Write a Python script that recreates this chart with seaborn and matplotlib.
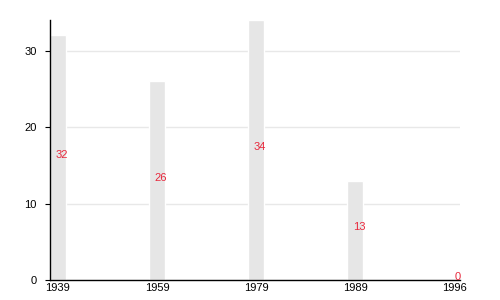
import matplotlib
matplotlib.use("Agg")
import matplotlib.pyplot as plt
import seaborn as sns
import pandas as pd

years = ["1939", "1959", "1979", "1989", "1996"]
values = [32, 26, 34, 13, 0]

sns.set_theme(style="white")
plt.rcParams['font.family'] = ['Liberation Sans', 'DejaVu Sans']

df = pd.DataFrame({"year": years, "value": values})

fig = plt.figure(figsize=(5, 3), dpi=100)
ax = fig.add_axes([0.1, 0.0667, 0.82, 0.8667])

ax.set_axisbelow(True)
ax.yaxis.grid(True, color="#e8e8e8", linewidth=1)
sns.barplot(data=df, x="year", y="value", order=years, color="#e6e6e6",
            saturation=1, width=0.165, ax=ax)

for i, v in enumerate(values):
    ax.text(i + 0.04, v / 2, str(v), color="#e8283c", fontsize=8,
            ha="center", va="baseline")

ax.set_xlim(-0.08, 4.06)
ax.set_ylim(0, 34)
ax.set_yticks([0, 10, 20, 30])
ax.set_xlabel("")
ax.set_ylabel("")
for s in ["top", "right"]:
    ax.spines[s].set_visible(False)
for s in ["left", "bottom"]:
    ax.spines[s].set_color("black")
    ax.spines[s].set_linewidth(1)
ax.tick_params(axis="y", which="both", left=True, length=3.5, width=0.8,
               labelsize=8, colors="black", pad=6)
ax.tick_params(axis="x", bottom=False, length=0, labelsize=8,
               colors="black", pad=2)

fig.savefig("out.png", dpi=100)
